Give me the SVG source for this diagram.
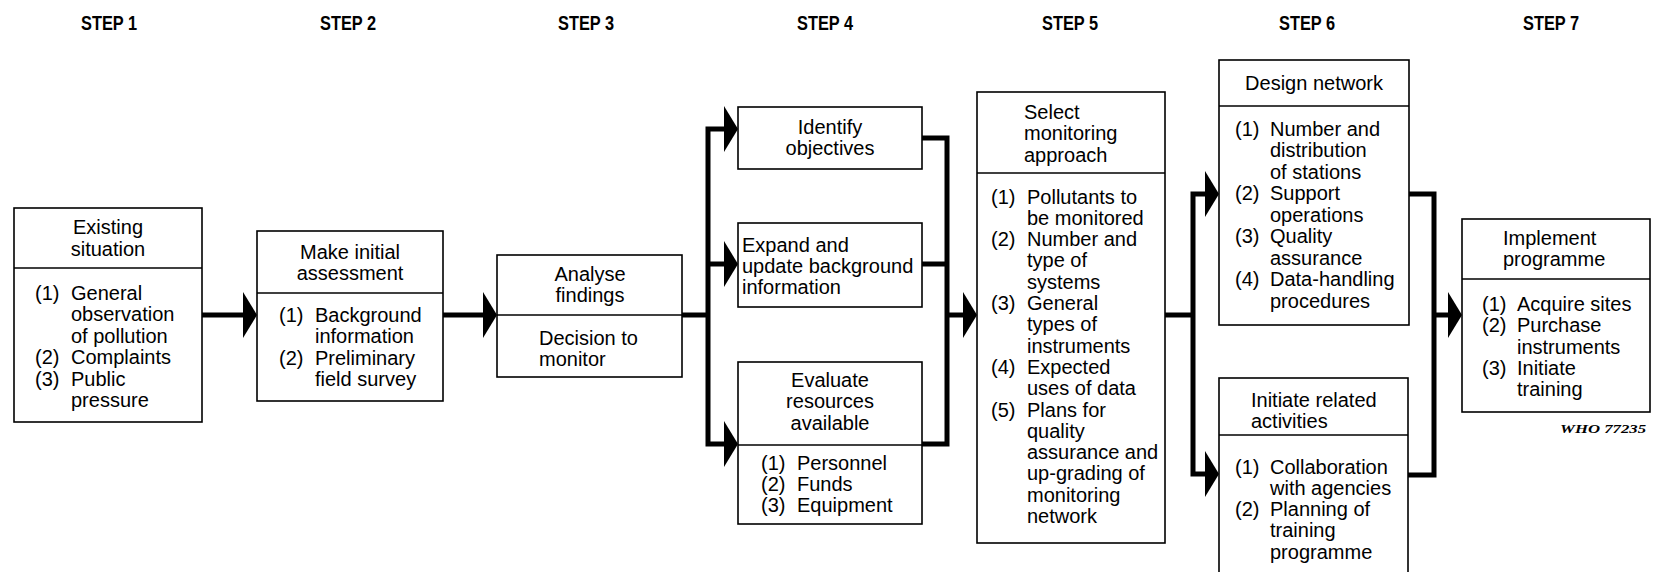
<svg xmlns="http://www.w3.org/2000/svg" width="1661" height="572" viewBox="0 0 1661 572">
<style>
.bg{fill:#fff}
.box{fill:#fff;stroke:#000;stroke-width:1.6}
.div{stroke:#000;stroke-width:1.6;fill:none}
.t{font-family:"Liberation Sans",Arial,sans-serif;font-size:20px;fill:#000}
.c{text-anchor:middle}
.step{font-family:"Liberation Sans Narrow","Liberation Sans",Arial,sans-serif;font-size:21px;font-weight:bold;fill:#000;text-anchor:middle}
.who{font-family:"Liberation Serif","Times New Roman",serif;font-size:13px;font-style:italic;font-weight:bold;fill:#000}
.conn{stroke:#000;stroke-width:5;fill:none;stroke-linejoin:miter}
.arr{marker-end:url(#ah)}
.arr2{marker-start:url(#ah);marker-end:url(#ah)}
</style>
<defs>
<marker id="ah" markerUnits="userSpaceOnUse" markerWidth="16" markerHeight="48" refX="0" refY="24" orient="auto-start-reverse" overflow="visible">
<path d="M0,1 L14,24 L0,47 Z" fill="#000"/>
</marker>
</defs>
<rect class="bg" x="0" y="0" width="1661" height="572"/>

<g id="steps">
<text class="step" x="109" y="30" textLength="56" lengthAdjust="spacingAndGlyphs">STEP 1</text>
<text class="step" x="348" y="30" textLength="56" lengthAdjust="spacingAndGlyphs">STEP 2</text>
<text class="step" x="586" y="30" textLength="56" lengthAdjust="spacingAndGlyphs">STEP 3</text>
<text class="step" x="825" y="30" textLength="56" lengthAdjust="spacingAndGlyphs">STEP 4</text>
<text class="step" x="1070" y="30" textLength="56" lengthAdjust="spacingAndGlyphs">STEP 5</text>
<text class="step" x="1307" y="30" textLength="56" lengthAdjust="spacingAndGlyphs">STEP 6</text>
<text class="step" x="1551" y="30" textLength="56" lengthAdjust="spacingAndGlyphs">STEP 7</text>
</g>

<g id="connectors">
<path class="conn arr" d="M202,315 H243"/>
<path class="conn arr" d="M443,315 H483"/>
<path class="conn" d="M682,315 H708"/>
<path class="conn arr2" d="M724,129 H708 V444 H724"/>
<path class="conn arr" d="M708,264 H724"/>
<path class="conn" d="M922,138 H947 V444 H922"/>
<path class="conn" d="M922,264 H947"/>
<path class="conn arr" d="M947,315 H963"/>
<path class="conn" d="M1165,315 H1193"/>
<path class="conn arr2" d="M1205,194 H1193 V474 H1205"/>
<path class="conn" d="M1409,194 H1434 V475 H1408"/>
<path class="conn arr" d="M1434,315 H1448"/>
</g>

<g id="step1">
<rect class="box" x="14" y="208" width="188" height="214"/>
<line class="div" x1="14" y1="268" x2="202" y2="268"/>
<text class="t c" x="108" y="234">Existing</text>
<text class="t c" x="108" y="255.5">situation</text>
<text class="t" x="35" y="299.5">(1)</text><text class="t" x="71" y="299.5">General</text>
<text class="t" x="71" y="321">observation</text>
<text class="t" x="71" y="342.5">of pollution</text>
<text class="t" x="35" y="364">(2)</text><text class="t" x="71" y="364">Complaints</text>
<text class="t" x="35" y="385.5">(3)</text><text class="t" x="71" y="385.5">Public</text>
<text class="t" x="71" y="407">pressure</text>
</g>

<g id="step2">
<rect class="box" x="257" y="231" width="186" height="170"/>
<line class="div" x1="257" y1="293" x2="443" y2="293"/>
<text class="t c" x="350" y="259">Make initial</text>
<text class="t c" x="350" y="280">assessment</text>
<text class="t" x="279" y="322">(1)</text><text class="t" x="315" y="322">Background</text>
<text class="t" x="315" y="343.3">information</text>
<text class="t" x="279" y="364.6">(2)</text><text class="t" x="315" y="364.6">Preliminary</text>
<text class="t" x="315" y="386">field survey</text>
</g>

<g id="step3">
<rect class="box" x="497" y="255" width="185" height="122"/>
<line class="div" x1="497" y1="315" x2="682" y2="315"/>
<text class="t c" x="590" y="280.5">Analyse</text>
<text class="t c" x="590" y="301.5">findings</text>
<text class="t" x="539" y="344.5">Decision to</text>
<text class="t" x="539" y="365.5">monitor</text>
</g>

<g id="step4-identify">
<rect class="box" x="738" y="107" width="184" height="62"/>
<text class="t c" x="830" y="134">Identify</text>
<text class="t c" x="830" y="155">objectives</text>
</g>

<g id="step4-expand">
<rect class="box" x="738" y="223" width="184" height="84"/>
<text class="t" x="742" y="251.5">Expand and</text>
<text class="t" x="742" y="272.8">update background</text>
<text class="t" x="742" y="294">information</text>
</g>

<g id="step4-evaluate">
<rect class="box" x="738" y="362" width="184" height="162"/>
<line class="div" x1="738" y1="445" x2="922" y2="445"/>
<text class="t c" x="830" y="386.5">Evaluate</text>
<text class="t c" x="830" y="408">resources</text>
<text class="t c" x="830" y="429.5">available</text>
<text class="t" x="761" y="469.5">(1)</text><text class="t" x="797" y="469.5">Personnel</text>
<text class="t" x="761" y="490.8">(2)</text><text class="t" x="797" y="490.8">Funds</text>
<text class="t" x="761" y="512">(3)</text><text class="t" x="797" y="512">Equipment</text>
</g>

<g id="step5">
<rect class="box" x="977" y="92" width="188" height="451"/>
<line class="div" x1="977" y1="173" x2="1165" y2="173"/>
<text class="t" x="1024" y="119">Select</text>
<text class="t" x="1024" y="140.3">monitoring</text>
<text class="t" x="1024" y="161.6">approach</text>
<text class="t" x="991" y="203.5">(1)</text><text class="t" x="1027" y="203.5">Pollutants to</text>
<text class="t" x="1027" y="224.8">be monitored</text>
<text class="t" x="991" y="246.1">(2)</text><text class="t" x="1027" y="246.1">Number and</text>
<text class="t" x="1027" y="267.4">type of</text>
<text class="t" x="1027" y="288.7">systems</text>
<text class="t" x="991" y="310">(3)</text><text class="t" x="1027" y="310">General</text>
<text class="t" x="1027" y="331.3">types of</text>
<text class="t" x="1027" y="352.6">instruments</text>
<text class="t" x="991" y="373.9">(4)</text><text class="t" x="1027" y="373.9">Expected</text>
<text class="t" x="1027" y="395.2">uses of data</text>
<text class="t" x="991" y="416.5">(5)</text><text class="t" x="1027" y="416.5">Plans for</text>
<text class="t" x="1027" y="437.8">quality</text>
<text class="t" x="1027" y="459.1">assurance and</text>
<text class="t" x="1027" y="480.4">up-grading of</text>
<text class="t" x="1027" y="501.7">monitoring</text>
<text class="t" x="1027" y="523">network</text>
</g>

<g id="step6-design">
<rect class="box" x="1219" y="60" width="190" height="265"/>
<line class="div" x1="1219" y1="106" x2="1409" y2="106"/>
<text class="t c" x="1314" y="90">Design network</text>
<text class="t" x="1235" y="135.5">(1)</text><text class="t" x="1270" y="135.5">Number and</text>
<text class="t" x="1270" y="157">distribution</text>
<text class="t" x="1270" y="178.5">of stations</text>
<text class="t" x="1235" y="200">(2)</text><text class="t" x="1270" y="200">Support</text>
<text class="t" x="1270" y="221.5">operations</text>
<text class="t" x="1235" y="243">(3)</text><text class="t" x="1270" y="243">Quality</text>
<text class="t" x="1270" y="264.5">assurance</text>
<text class="t" x="1235" y="286">(4)</text><text class="t" x="1270" y="286">Data-handling</text>
<text class="t" x="1270" y="307.5">procedures</text>
</g>

<g id="step6-initiate">
<rect class="box" x="1219" y="378" width="189" height="220"/>
<line class="div" x1="1219" y1="435" x2="1408" y2="435"/>
<text class="t" x="1251" y="406.5">Initiate related</text>
<text class="t" x="1251" y="427.5">activities</text>
<text class="t" x="1235" y="473.5">(1)</text><text class="t" x="1270" y="473.5">Collaboration</text>
<text class="t" x="1270" y="494.8">with agencies</text>
<text class="t" x="1235" y="516.1">(2)</text><text class="t" x="1270" y="516.1">Planning of</text>
<text class="t" x="1270" y="537.4">training</text>
<text class="t" x="1270" y="558.7">programme</text>
</g>

<g id="step7">
<rect class="box" x="1462" y="219" width="188" height="193"/>
<line class="div" x1="1462" y1="279" x2="1650" y2="279"/>
<text class="t" x="1503" y="245">Implement</text>
<text class="t" x="1503" y="266.2">programme</text>
<text class="t" x="1482" y="311">(1)</text><text class="t" x="1517" y="311">Acquire sites</text>
<text class="t" x="1482" y="332.3">(2)</text><text class="t" x="1517" y="332.3">Purchase</text>
<text class="t" x="1517" y="353.6">instruments</text>
<text class="t" x="1482" y="374.9">(3)</text><text class="t" x="1517" y="374.9">Initiate</text>
<text class="t" x="1517" y="396.2">training</text>
</g>

<text class="who" x="1560" y="433" textLength="86" lengthAdjust="spacingAndGlyphs">WHO 77235</text>
</svg>
